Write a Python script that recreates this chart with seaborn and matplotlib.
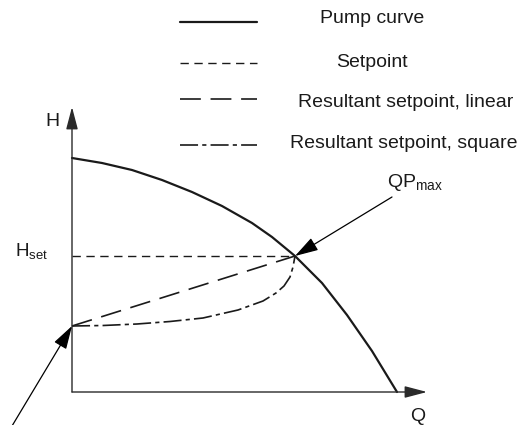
import matplotlib
matplotlib.use("Agg")
import matplotlib.pyplot as plt
import seaborn as sns

sns.set_theme(style="white")
plt.rcParams["font.family"] = ["Liberation Sans", "DejaVu Sans"]
plt.rcParams["mathtext.fontset"] = "custom"
plt.rcParams["mathtext.rm"] = "Liberation Sans"
plt.rcParams["mathtext.it"] = "Liberation Sans:italic"
plt.rcParams["lines.scale_dashes"] = False

# Pump curve: flow Q against head H (drawing units)
pump_q = [0, 30, 60, 90, 120, 150, 180, 200, 223, 250, 275, 300, 325]
pump_h = [234, 229, 222, 212, 200, 186, 169, 155, 136, 109, 77, 41, 0]

# Setpoint and the operating point QPmax on the pump curve
h_set = 136
qp_max = 223
h_min = 66

setpoint_q = [0, qp_max]
setpoint_h = [h_set, h_set]

linear_q = [0, qp_max]
linear_h = [h_min, h_set]

square_q = [0, 31, 65, 98, 131, 166, 191, 204, 212, 218, 221, 223]
square_h = [66, 66.5, 68, 70.5, 74, 82, 91, 99, 106, 115, 125, 136]

legend_labels = ["Pump curve", "Setpoint",
                 "Resultant setpoint, linear", "Resultant setpoint, square"]

# line styles
INK = "#1a1a1a"
styles = [
    dict(linestyle="-", lw=1.6),
    dict(linestyle=(0, (6, 4)), lw=1.0),
    dict(linestyle=(0, (15, 7)), lw=1.2),
    dict(linestyle=(0, (13, 3, 3, 3)), lw=1.2),
]

fig = plt.figure(figsize=(5.27, 4.25), dpi=100)
fig.patch.set_facecolor("white")
ax = fig.add_axes([0, 0, 1, 1])
ax.set_xlim(-72, 455)
ax.set_ylim(-33, 392)
ax.axis("off")

# coordinate axes with arrow heads
axis_arrow = dict(arrowstyle="-|>,head_length=0.76,head_width=0.2",
                  mutation_scale=18, lw=1.0, color="#2a2a2a",
                  shrinkA=0, shrinkB=0)
ax.annotate("", xy=(0, 285), xytext=(0, 0), arrowprops=axis_arrow)
ax.annotate("", xy=(355, 0), xytext=(0, 0), arrowprops=axis_arrow)

# curves
sns.lineplot(x=pump_q, y=pump_h, color=INK, ax=ax, **styles[0])
sns.lineplot(x=setpoint_q, y=setpoint_h, color=INK, ax=ax, **styles[1])
sns.lineplot(x=linear_q, y=linear_h, color=INK, ax=ax, **styles[2])
sns.lineplot(x=square_q, y=square_h, color=INK, ax=ax, **styles[3])

# legend drawn as sample lines with labels
legend_line_y = [370, 329, 293, 247]
legend_text_x = [248, 264, 226, 218]
legend_text_y = [369, 325, 285, 244]
for label, st, ly, tx, ty in zip(legend_labels, styles, legend_line_y,
                                 legend_text_x, legend_text_y):
    ax.plot([108, 185], [ly, ly], color=INK, **st)
    ax.text(tx, ty, label, fontsize=14, color=INK, ha="left", va="baseline")

# pointer arrows
pointer = dict(arrowstyle="-|>,head_length=0.8,head_width=0.24",
               mutation_scale=18, lw=0.9, color="black",
               shrinkA=0, shrinkB=0)
ax.annotate("", xy=(qp_max, h_set), xytext=(320, 195), arrowprops=pointer)
ax.annotate("", xy=(0, h_min), xytext=(-60, -34), arrowprops=pointer)

# labels
ax.text(315, 205, r"QP$_{\mathrm{max}}$", fontsize=14, color=INK,
        ha="left", va="baseline")
ax.text(-40.5, h_set, r"H$_{\mathrm{set}}$", fontsize=13.5, color=INK,
        ha="center", va="baseline")
ax.text(-20, 266, "H", fontsize=14, color=INK, ha="center", va="baseline")
ax.text(346, -29, "Q", fontsize=14, color=INK, ha="center", va="baseline")

fig.savefig("out.png", dpi=100, facecolor="white")
